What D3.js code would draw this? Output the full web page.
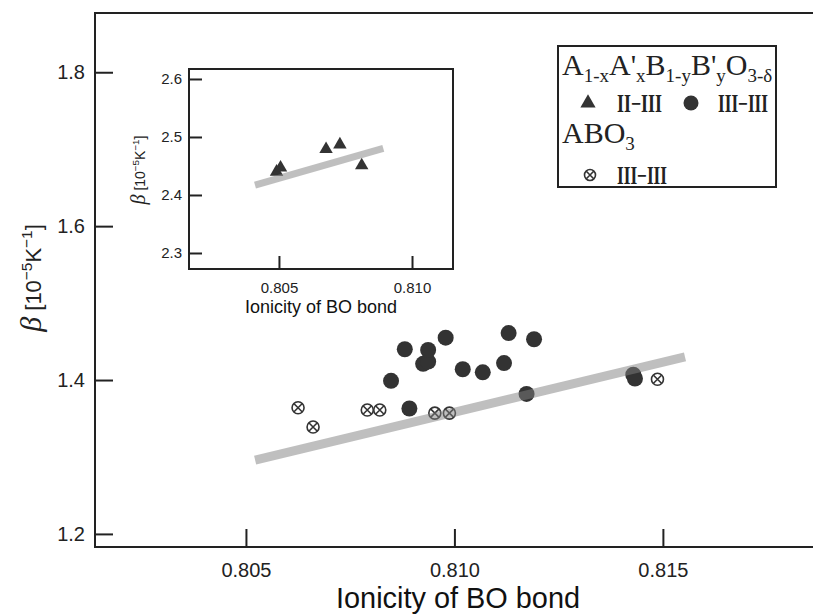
<!DOCTYPE html>
<html>
<head>
<meta charset="utf-8">
<script src="https://cdn.jsdelivr.net/npm/d3@7"></script>
<style>
  body { margin: 0; background: #fff; }
  svg { display: block; }
  .tick text { font-family: "Liberation Sans", Arial, sans-serif; fill: #222; }
</style>
</head>
<body>
<div id="chart"></div>
<script>
// ---- data ----
// A1-xA'xB1-yB'yO3-d, III-III (filled circles)
const mixedIonicity = [0.80848, 0.80881, 0.80892, 0.80925, 0.80937, 0.80937, 0.80979, 0.81020,
                       0.81068, 0.81119, 0.81130, 0.81191, 0.81173, 0.81429, 0.81433];
const mixedBeta     = [1.399, 1.440, 1.363, 1.421, 1.424, 1.439, 1.455, 1.414,
                       1.410, 1.422, 1.461, 1.453, 1.382, 1.407, 1.402];
// ABO3, III-III (crossed circles)
const simpleIonicity = [0.80625, 0.80661, 0.80791, 0.80821, 0.80953, 0.80988, 0.81487];
const simpleBeta     = [1.364, 1.339, 1.361, 1.361, 1.357, 1.357, 1.401];
// main fit line end points
const fitIonicity = [0.80522, 0.81553];
const fitBeta     = [1.296, 1.430];

// inset: A1-xA'xB1-yB'yO3-d, II-III (triangles)
const insetIonicity = [0.80491, 0.80506, 0.80677, 0.80729, 0.80811];
const insetBeta     = [2.440, 2.447, 2.479, 2.487, 2.451];
const insetFitIonicity = [0.80410, 0.80892];
const insetFitBeta     = [2.417, 2.4805];

const mainXTicks = [0.805, 0.810, 0.815];
const mainYTicks = [1.2, 1.4, 1.6, 1.8];
const insetXTicks = [0.805, 0.810];
const insetYTicks = [2.3, 2.4, 2.5, 2.6];

const width = 813, height = 614;
const dark = "#333";
const axisCol = "#222";
const fitCol = "rgba(128,128,128,0.5)";

const svg = d3.select("#chart").append("svg")
  .attr("width", width).attr("height", height);

// ---- main plot ----
const x = d3.scaleLinear().domain([0.80138, 0.8186]).range([95, 813]);
const y = d3.scaleLinear().domain([1.183, 1.877]).range([547, 13]);

const yAx = svg.append("g").attr("transform", "translate(95,0)")
  .call(d3.axisLeft(y).tickValues(mainYTicks).tickFormat(d3.format(".1f")).tickSize(-18).tickPadding(10));
const xAx = svg.append("g").attr("transform", "translate(0,547)")
  .call(d3.axisBottom(x).tickValues(mainXTicks).tickFormat(d3.format(".3f")).tickSize(-18).tickPadding(16));
[yAx, xAx].forEach(g => {
  g.select(".domain").remove();
  g.selectAll(".tick line").attr("stroke", axisCol).attr("stroke-width", 2);
  g.selectAll(".tick text").style("font-size", "20px");
});

// frame (no right edge)
svg.append("path")
  .attr("d", `M${width},13H95V547H${width}`)
  .attr("fill", "none").attr("stroke", axisCol).attr("stroke-width", 2);

// filled circles
svg.append("g").selectAll("circle")
  .data(d3.range(mixedIonicity.length))
  .join("circle")
  .attr("cx", i => x(mixedIonicity[i]))
  .attr("cy", i => y(mixedBeta[i]))
  .attr("r", 8)
  .attr("fill", dark);

// crossed circles
const cross = svg.append("g").selectAll("g")
  .data(d3.range(simpleIonicity.length))
  .join("g")
  .attr("transform", i => `translate(${x(simpleIonicity[i])},${y(simpleBeta[i])})`);
cross.append("circle").attr("r", 6).attr("fill", "#fff").attr("stroke", dark).attr("stroke-width", 1.6);
cross.append("path").attr("d", "M-4,-4L4,4M-4,4L4,-4").attr("stroke", dark).attr("stroke-width", 1.6);

// fit line, drawn on top
svg.append("line")
  .attr("x1", x(fitIonicity[0])).attr("y1", y(fitBeta[0]))
  .attr("x2", x(fitIonicity[1])).attr("y2", y(fitBeta[1]))
  .attr("stroke", fitCol).attr("stroke-width", 9);

// axis titles
svg.append("text")
  .attr("x", 458).attr("y", 608)
  .attr("text-anchor", "middle")
  .style("font-family", "'Liberation Sans', Arial, sans-serif")
  .style("font-size", "29px").attr("fill", "#111")
  .attr("textLength", 244).attr("lengthAdjust", "spacingAndGlyphs")
  .text("Ionicity of BO bond");

function betaLabel(g, big, small) {
  const t = g.append("text").attr("text-anchor", "middle").attr("fill", "#222")
    .style("font-family", "'Liberation Sans', Arial, sans-serif").style("font-size", small + "px");
  t.append("tspan").style("font-family", "'Liberation Serif', serif").style("font-style", "italic")
    .style("font-size", big + "px").text("β");
  t.append("tspan").text(" [10");
  t.append("tspan").attr("dy", -small * 0.4).style("font-size", small * 0.7 + "px").text("−5");
  t.append("tspan").attr("dy", small * 0.4).text("K");
  t.append("tspan").attr("dy", -small * 0.4).style("font-size", small * 0.7 + "px").text("−1");
  t.append("tspan").attr("dy", small * 0.4).text("]");
  return t;
}
betaLabel(svg.append("g").attr("transform", "translate(41,278) rotate(-90)"), 30, 22);

// ---- legend ----
const leg = svg.append("g");
leg.append("rect").attr("x", 558).attr("y", 46).attr("width", 218).attr("height", 141)
  .attr("fill", "#fff").attr("stroke", axisCol).attr("stroke-width", 2);

const serif = "'Liberation Serif', 'Times New Roman', serif";
function formula(parts, xx, yy) {
  const t = leg.append("text").attr("x", xx).attr("y", yy).attr("fill", "#222")
    .style("font-family", serif);
  let down = false;
  parts.forEach(p => {
    const sub = p[1];
    const sp = t.append("tspan").text(p[0]).style("font-size", sub ? "19px" : "30px");
    if (sub && !down) { sp.attr("dy", 7); down = true; }
    else if (!sub && down) { sp.attr("dy", -7); down = false; }
  });
}
formula([["A", 0], ["1-x", 1], ["A'", 0], ["x", 1], ["B", 0], ["1-y", 1], ["B'", 0], ["y", 1], ["O", 0], ["3-δ", 1]], 562, 75);
formula([["ABO", 0], ["3", 1]], 562, 143);

function legText(s, xx, yy, len) {
  leg.append("text").attr("x", xx).attr("y", yy).attr("fill", "#222")
    .style("font-family", serif).style("font-weight", "bold").style("font-size", "25px")
    .attr("textLength", len).attr("lengthAdjust", "spacingAndGlyphs")
    .text(s);
}
leg.append("path").attr("d", d3.symbol(d3.symbolTriangle, 100)()).attr("transform", "translate(588,103)").attr("fill", dark);
legText("II−III", 617, 112, 45);
leg.append("circle").attr("cx", 691).attr("cy", 103).attr("r", 7.5).attr("fill", dark);
legText("III−III", 718, 112, 50);
const lc = leg.append("g").attr("transform", "translate(590,175)");
lc.append("circle").attr("r", 5.5).attr("fill", "#fff").attr("stroke", dark).attr("stroke-width", 1.6);
lc.append("path").attr("d", "M-3.7,-3.7L3.7,3.7M-3.7,3.7L3.7,-3.7").attr("stroke", dark).attr("stroke-width", 1.6);
legText("III−III", 617, 184, 50);

// ---- inset ----
const ix = d3.scaleLinear().domain([0.80162, 0.81154]).range([189, 453]);
const iy = d3.scaleLinear().domain([2.2724, 2.6172]).range([269, 69]);
const inset = svg.append("g");
inset.append("rect").attr("x", 189).attr("y", 69).attr("width", 264).attr("height", 200)
  .attr("fill", "#fff").attr("stroke", axisCol).attr("stroke-width", 2);
const iyAx = inset.append("g").attr("transform", "translate(189,0)")
  .call(d3.axisLeft(iy).tickValues(insetYTicks).tickFormat(d3.format(".1f")).tickSize(-13).tickPadding(7));
const ixAx = inset.append("g").attr("transform", "translate(0,269)")
  .call(d3.axisBottom(ix).tickValues(insetXTicks).tickFormat(d3.format(".3f")).tickSize(-13).tickPadding(13));
[iyAx, ixAx].forEach(g => {
  g.select(".domain").remove();
  g.selectAll(".tick line").attr("stroke", axisCol).attr("stroke-width", 2);
  g.selectAll(".tick text").style("font-size", "15px");
});
inset.append("g").selectAll("path")
  .data(d3.range(insetIonicity.length))
  .join("path")
  .attr("d", d3.symbol(d3.symbolTriangle, 78)())
  .attr("transform", i => `translate(${ix(insetIonicity[i])},${iy(insetBeta[i])})`)
  .attr("fill", dark);
inset.append("line")
  .attr("x1", ix(insetFitIonicity[0])).attr("y1", iy(insetFitBeta[0]))
  .attr("x2", ix(insetFitIonicity[1])).attr("y2", iy(insetFitBeta[1]))
  .attr("stroke", fitCol).attr("stroke-width", 7);
inset.append("text")
  .attr("x", 321).attr("y", 313).attr("text-anchor", "middle")
  .style("font-family", "'Liberation Sans', Arial, sans-serif")
  .style("font-size", "18px").attr("fill", "#111")
  .text("Ionicity of BO bond");
betaLabel(inset.append("g").attr("transform", "translate(145,170) rotate(-90)"), 20, 14);
</script>
</body>
</html>
